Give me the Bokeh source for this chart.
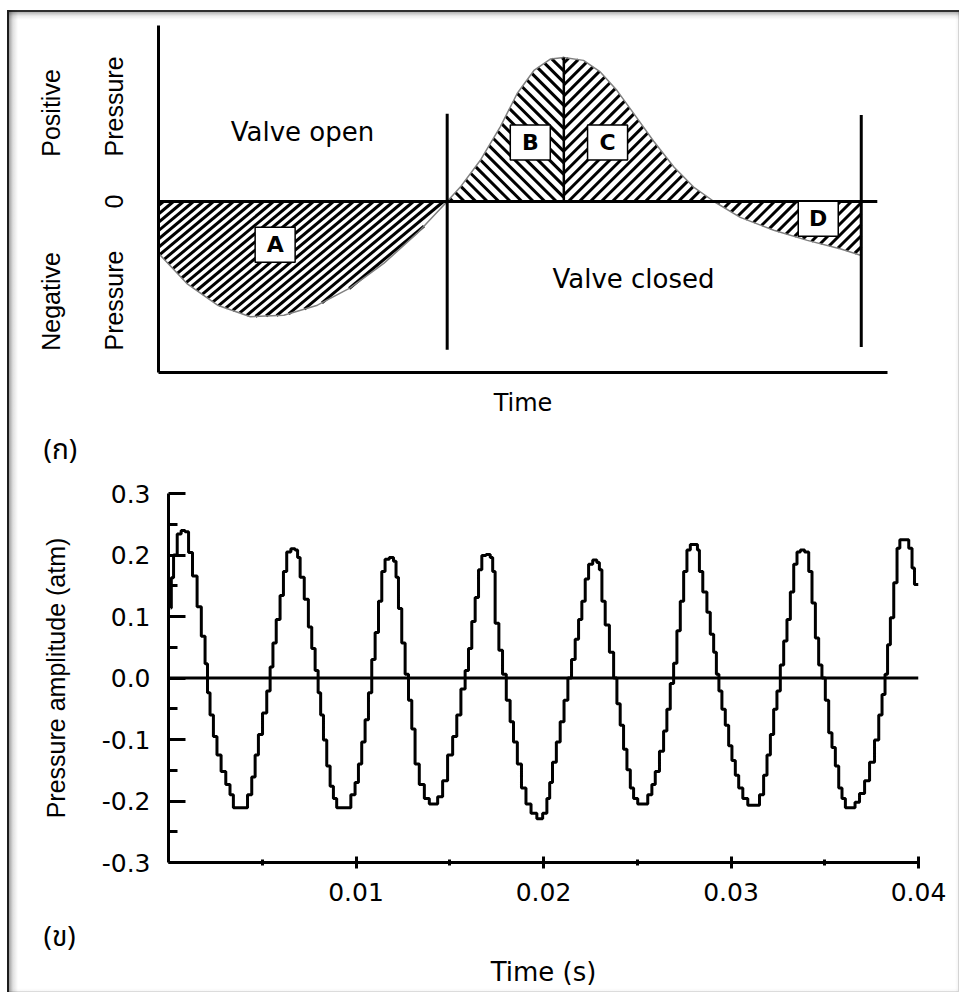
from math import pi
from bokeh.plotting import figure
from bokeh.models import (Range1d, Label, FixedTicker, PrintfTickFormatter, Span,
                          LinearAxis, Title)
from bokeh.core.properties import value
from bokeh.embed import file_html
from bokeh.resources import INLINE

# ---------------- top schematic (arbitrary units) ----------------
curve_t = [0.00, 0.39, 0.81, 1.26, 1.72, 2.18, 2.63, 3.09, 3.55, 3.96,
           4.14, 4.42, 4.69, 4.92, 5.15, 5.38, 5.56, 5.83, 6.06, 6.29,
           6.52, 6.79, 7.07, 7.34, 7.62, 7.98, 8.44, 8.90, 9.36, 9.64]
curve_p = [-0.36, -0.57, -0.72, -0.80, -0.79, -0.72, -0.60, -0.43, -0.22, 0.00,
           0.10, 0.29, 0.52, 0.75, 0.91, 0.99, 1.00, 0.98, 0.90, 0.77,
           0.61, 0.42, 0.24, 0.10, 0.00, -0.11, -0.20, -0.27, -0.33, -0.375]
region_names = ["A", "B", "C", "D"]
region_start = [0, 9, 16, 24]
region_end = [9, 16, 24, 29]
box_t = [1.60, 5.10, 6.16, 9.05]
box_p = [-0.30, 0.41, 0.41, -0.12]
valve_t = [3.96, 9.64]
valve_top = [0.61, 0.60]
valve_bottom = [-1.03, -1.01]
zero_end = 9.86
left_inner_ticks = [0.66, 0.0, -0.6875]
left_inner_labels = ["Pressure", "0", "Pressure"]
left_outer_ticks = [0.615, -0.694]
left_outer_labels = ["Positive", "Negative"]

# ---------------- bottom measured waveform ----------------
wave_t_ms = [0.11, 0.19, 0.35, 0.58, 0.77, 0.99, 1.15, 1.41, 1.64, 1.86, 2.04, 2.12, 2.31, 2.48, 2.69,
             2.92, 3.19, 3.37, 3.55, 4.08, 4.35, 4.53, 4.71, 4.88, 5.15, 5.33, 5.51, 5.63, 5.86, 6.04,
             6.22, 6.39, 6.66, 6.84, 6.93, 7.11, 7.37, 7.55, 7.73, 7.91, 8.05, 8.18, 8.35, 8.53, 8.71,
             8.88, 9.06, 9.59, 9.86, 10.04, 10.22, 10.39, 10.58, 10.75, 10.93, 11.11, 11.29, 11.46, 11.64, 11.91,
             12.09, 12.18, 12.35, 12.53, 12.71, 12.89, 13.06, 13.24, 13.51, 13.78, 14.04, 14.22, 14.49, 14.75, 15.02,
             15.29, 15.46, 15.73, 15.91, 16.09, 16.26, 16.45, 16.62, 16.80, 17.07, 17.25, 17.33, 17.51, 17.73, 17.90,
             18.13, 18.31, 18.49, 18.72, 18.93, 19.20, 19.47, 19.82, 20.09, 20.27, 20.39, 20.57, 20.80, 20.98, 21.21,
             21.39, 21.60, 21.78, 21.96, 22.13, 22.32, 22.49, 22.76, 22.93, 23.03, 23.20, 23.38, 23.65, 23.83, 24.00,
             24.18, 24.36, 24.54, 24.72, 24.89, 25.16, 25.43, 25.69, 25.87, 26.05, 26.32, 26.49, 26.67, 26.85, 27.03,
             27.20, 27.39, 27.56, 27.74, 27.92, 28.15, 28.27, 28.36, 28.63, 28.80, 28.99, 29.16, 29.28, 29.43, 29.60,
             29.79, 29.96, 30.14, 30.32, 30.50, 30.76, 31.03, 31.39, 31.65, 31.83, 32.01, 32.19, 32.36, 32.54, 32.72,
             32.90, 33.07, 33.26, 33.43, 33.61, 33.79, 34.06, 34.23, 34.41, 34.59, 34.76, 34.94, 35.12, 35.30, 35.47,
             35.66, 35.83, 36.01, 36.19, 36.51, 36.72, 36.99, 37.26, 37.52, 37.79, 37.97, 38.14, 38.29, 38.41, 38.59,
             38.77, 38.94, 39.07, 39.39, 39.57, 39.74, 39.83, 40.00]
wave_p = [0.114, 0.163, 0.200, 0.234, 0.240, 0.238, 0.204, 0.166, 0.116, 0.068, 0.023, -0.024, -0.060, -0.095, -0.125,
          -0.152, -0.173, -0.190, -0.211, -0.211, -0.190, -0.161, -0.125, -0.092, -0.057, -0.021, 0.018, 0.057, 0.095, 0.134,
          0.173, 0.205, 0.210, 0.208, 0.196, 0.164, 0.128, 0.083, 0.048, 0.012, -0.024, -0.060, -0.101, -0.143, -0.176,
          -0.196, -0.211, -0.211, -0.190, -0.170, -0.140, -0.104, -0.068, -0.024, 0.030, 0.074, 0.125, 0.173, 0.193, 0.196,
          0.190, 0.164, 0.113, 0.057, 0.006, -0.036, -0.083, -0.140, -0.173, -0.196, -0.205, -0.205, -0.193, -0.167, -0.125,
          -0.095, -0.060, -0.018, 0.012, 0.048, 0.092, 0.131, 0.176, 0.199, 0.201, 0.196, 0.173, 0.089, 0.045, 0.006,
          -0.036, -0.071, -0.104, -0.140, -0.179, -0.205, -0.220, -0.229, -0.220, -0.196, -0.170, -0.137, -0.104, -0.071, -0.036,
          0.000, 0.030, 0.063, 0.095, 0.125, 0.161, 0.185, 0.192, 0.188, 0.176, 0.125, 0.086, 0.042, 0.000, -0.042,
          -0.077, -0.116, -0.149, -0.179, -0.196, -0.205, -0.205, -0.190, -0.173, -0.152, -0.119, -0.086, -0.051, -0.009, 0.024,
          0.077, 0.125, 0.173, 0.208, 0.217, 0.217, 0.208, 0.173, 0.140, 0.107, 0.071, 0.042, 0.006, -0.021, -0.051,
          -0.077, -0.110, -0.134, -0.158, -0.179, -0.196, -0.207, -0.207, -0.190, -0.158, -0.125, -0.092, -0.051, -0.021, 0.021,
          0.060, 0.095, 0.140, 0.185, 0.205, 0.208, 0.205, 0.173, 0.122, 0.065, 0.021, 0.000, -0.036, -0.089, -0.113,
          -0.143, -0.179, -0.196, -0.211, -0.211, -0.202, -0.188, -0.167, -0.137, -0.101, -0.060, -0.027, 0.006, 0.054, 0.098,
          0.155, 0.211, 0.225, 0.225, 0.211, 0.179, 0.152, 0.152]
x_ticks = [0.01, 0.02, 0.03, 0.04]
x_minor = [0.005, 0.015, 0.025, 0.035]
y_ticks = [-0.3, -0.2, -0.1, 0.0, 0.1, 0.2, 0.3]
y_minor = [-0.25, -0.15, -0.05, 0.05, 0.15, 0.25]

SANS = "DejaVu Sans"
ROT = "Liberation Sans"
THAI = "Noto Sans Thai, Noto Serif Thai, Noto Sans, DejaVu Sans"

LEFT_EDGE = ("linear-gradient(to right, #1c1c1c 0px, #1c1c1c 2px, rgba(0,0,0,0.38) 2px, "
             "rgba(0,0,0,0.12) 6px, rgba(0,0,0,0) 11px)")
TOP_EDGE = ("linear-gradient(to bottom, #2e2e2e 0px, #2e2e2e 2px, rgba(0,0,0,0.30) 2px, "
            "rgba(0,0,0,0.08) 6px, rgba(0,0,0,0) 10px)")
RIGHT_EDGE = "linear-gradient(to left, #d4d4d4 0px, #d4d4d4 1px, rgba(0,0,0,0.04) 1px, rgba(0,0,0,0) 4px)"
BOTTOM_EDGE = "linear-gradient(to top, #dcdcdc 0px, #dcdcdc 1px, rgba(0,0,0,0.03) 1px, rgba(0,0,0,0) 4px)"
OVERLAP = 17  # the lower canvas starts this many px above the end of the upper one

# ================= top figure =================
T_W, T_H = 952, 415
T_L, T_R, T_T, T_B = 151, 72, 15, 53
t_range = (0.0, 10.0)
p_range = (-1.1875, 1.2222)
p1 = figure(width=T_W, height=T_H, x_range=Range1d(*t_range), y_range=Range1d(*p_range),
            output_backend="svg", toolbar_location=None,
            min_border_left=T_L, min_border_right=T_R, min_border_top=T_T, min_border_bottom=T_B)
p1.background_fill_color = None
p1.border_fill_color = None
p1.outline_line_color = None
p1.grid.visible = False
p1.styles = {"margin-left": "7px", "margin-top": "10px",
             "background": ", ".join([LEFT_EDGE, TOP_EDGE, RIGHT_EDGE]) + ", white"}

# pixel scale of the frame (for drawing hatch strokes at true screen angles)
PX_T = (T_W - T_L - T_R) / (t_range[1] - t_range[0])
PX_P = (T_H - T_T - T_B) / (p_range[1] - p_range[0])

# hatch style per region: direction (+1 "/", -1 "\"), dx/dy slope, horizontal spacing (px)
hatch_dir = [1, -1, 1, 1]
hatch_slope = [1.2, 1.0, 1.0, 1.0]
hatch_gap = [10.0, 11.5, 11.0, 11.0]


def hatch_segments(ts, ps, s, k, gap):
    pts = [(t * PX_T, p * PX_P) for t, p in zip(ts, ps)]
    poly = [(pts[0][0], 0.0)] + pts + [(pts[-1][0], 0.0)]
    f_all = [x - s * k * y for x, y in poly]
    segs = []
    c = min(f_all) + gap * 0.5
    n = len(poly)
    while c < max(f_all):
        hits = []
        for i in range(n):
            (x1, y1), (x2, y2) = poly[i], poly[(i + 1) % n]
            f1 = x1 - s * k * y1 - c
            f2 = x2 - s * k * y2 - c
            if (f1 < 0) != (f2 < 0):
                u = f1 / (f1 - f2)
                hits.append((x1 + u * (x2 - x1), y1 + u * (y2 - y1)))
        hits.sort(key=lambda q: q[1])
        for j in range(0, len(hits) - 1, 2):
            segs.append((hits[j][0] / PX_T, hits[j][1] / PX_P, hits[j + 1][0] / PX_T, hits[j + 1][1] / PX_P))
        c += gap
    return segs


hx0, hy0, hx1, hy1 = [], [], [], []
for a, b, s, k, g in zip(region_start, region_end, hatch_dir, hatch_slope, hatch_gap):
    for sg in hatch_segments(curve_t[a:b + 1], curve_p[a:b + 1], s, k, g):
        hx0.append(sg[0]); hy0.append(sg[1]); hx1.append(sg[2]); hy1.append(sg[3])
p1.segment(x0=hx0, y0=hy0, x1=hx1, y1=hy1, line_color="black", line_width=3)

p1.line(curve_t, curve_p, line_color="#808080", line_width=1.5)
p1.segment(x0=[t_range[0]], y0=[0], x1=[zero_end], y1=[0], line_color="black", line_width=3)
p1.segment(x0=valve_t, y0=valve_bottom, x1=valve_t, y1=valve_top, line_color="black", line_width=3)
pk = region_start[2]
p1.segment(x0=[curve_t[pk]], y0=[0], x1=[curve_t[pk]], y1=[curve_p[pk]], line_color="black", line_width=2.5)

p1.rect(x=box_t, y=box_p, width=40, height=35, width_units="screen", height_units="screen",
        fill_color="white", line_color="black", line_width=1.5)
p1.text(x=box_t, y=box_p, text=region_names, text_align="center", text_baseline="middle",
        text_font=value(SANS), text_font_style="bold", text_font_size="22px", text_color="black")

p1.xaxis.ticker = FixedTicker(ticks=[])
p1.xaxis.axis_line_width = 3
p1.xaxis.major_tick_line_color = None
p1.xaxis.minor_tick_line_color = None
p1.xaxis.axis_label = "Time"
p1.xaxis.axis_label_text_font = SANS
p1.xaxis.axis_label_text_font_style = "normal"
p1.xaxis.axis_label_text_font_size = "24px"
p1.xaxis.axis_label_text_color = "black"
p1.xaxis.axis_label_standoff = 16

ia = p1.yaxis[0]
ia.ticker = FixedTicker(ticks=left_inner_ticks)
ia.major_label_overrides = dict(zip(left_inner_ticks, left_inner_labels))
ia.axis_line_width = 3
ia.major_tick_line_color = None
ia.minor_tick_line_color = None
ia.major_label_orientation = "parallel"
ia.major_label_standoff = 24
ia.major_label_text_font = ROT
ia.major_label_text_font_size = "25px"
ia.major_label_text_color = "black"

oa = LinearAxis(ticker=FixedTicker(ticks=left_outer_ticks),
                major_label_overrides=dict(zip(left_outer_ticks, left_outer_labels)),
                axis_line_color=None, major_tick_line_color=None, minor_tick_line_color=None,
                major_label_orientation="parallel", major_label_standoff=26,
                major_label_text_font=ROT, major_label_text_font_size="25px",
                major_label_text_color="black")
p1.add_layout(oa, "left")

p1.add_layout(Label(x=1.975, y=0.486, text="Valve open", text_align="center", text_baseline="middle",
                    text_font=SANS, text_font_size="26px", text_color="black"))
p1.add_layout(Label(x=6.516, y=-0.535, text="Valve closed", text_align="center", text_baseline="middle",
                    text_font=SANS, text_font_size="26px", text_color="black"))

# ================= bottom figure =================
p2 = figure(width=952, height=567 + OVERLAP, x_range=Range1d(0, 0.04), y_range=Range1d(-0.3, 0.3),
            output_backend="svg", toolbar_location=None,
            min_border_left=161, min_border_right=41, min_border_top=68 + OVERLAP, min_border_bottom=130)
p2.background_fill_color = None
p2.border_fill_color = None
p2.outline_line_color = None
p2.grid.visible = False
clip = f" 0 {OVERLAP}px / 100% calc(100% - {OVERLAP}px) no-repeat"
p2.styles = {"margin-left": "7px", "margin-top": f"-{OVERLAP}px", "position": "relative",
             "background": ", ".join([LEFT_EDGE + clip, RIGHT_EDGE + clip, BOTTOM_EDGE])}

p2.add_layout(Span(location=0, dimension="width", line_color="black", line_width=3))
wave_t = [t / 1000.0 for t in wave_t_ms]
p2.step(wave_t, wave_p, mode="center", line_color="black", line_width=3)

xa = p2.xaxis[0]
xa.ticker = FixedTicker(ticks=x_ticks, minor_ticks=x_minor)
xa.formatter = PrintfTickFormatter(format="%.2f")
xa.axis_line_width = 3
xa.major_tick_line_width = 3
xa.minor_tick_line_width = 3
xa.major_tick_in = 6
xa.major_tick_out = 6
xa.minor_tick_in = 3
xa.minor_tick_out = 3
xa.major_label_standoff = 14
xa.major_label_text_font = SANS
xa.major_label_text_font_size = "25px"
xa.major_label_text_color = "black"

ya = p2.yaxis[0]
ya.ticker = FixedTicker(ticks=y_ticks, minor_ticks=y_minor)
ya.formatter = PrintfTickFormatter(format="%.1f")
ya.axis_line_width = 3
ya.major_tick_line_width = 3
ya.minor_tick_line_width = 3
ya.major_tick_in = 17
ya.major_tick_out = 0
ya.minor_tick_in = 9
ya.minor_tick_out = 0
ya.major_label_standoff = 18
ya.major_label_text_font = SANS
ya.major_label_text_font_size = "25px"
ya.major_label_text_color = "black"
ya.axis_label = "Pressure amplitude (atm)"
ya.axis_label_text_font = ROT
ya.axis_label_text_font_style = "normal"
ya.axis_label_text_font_size = "25px"
ya.axis_label_text_color = "black"
ya.axis_label_standoff = 29

# panel captions (ก) and (ข), and the time label under the x axis
p2.title.text = "(ก)"
p2.title.align = "left"
p2.title.offset = -125
p2.title.vertical_align = "top"
p2.title.standoff = 40
p2.title.text_font = THAI
p2.title.text_font_size = "28px"
p2.title.text_font_style = "normal"
p2.title.text_color = "black"
p2.add_layout(Title(text="(ข)", align="left", offset=-125, standoff=20, text_font=THAI,
                    text_font_size="28px", text_font_style="normal", text_color="black"), "below")
p2.add_layout(Title(text="Time (s)", align="center", standoff=-36, text_font=SANS,
                    text_font_size="26px", text_font_style="normal", text_color="black"), "below")

open("out.html", "w").write(file_html([p1, p2], INLINE))
